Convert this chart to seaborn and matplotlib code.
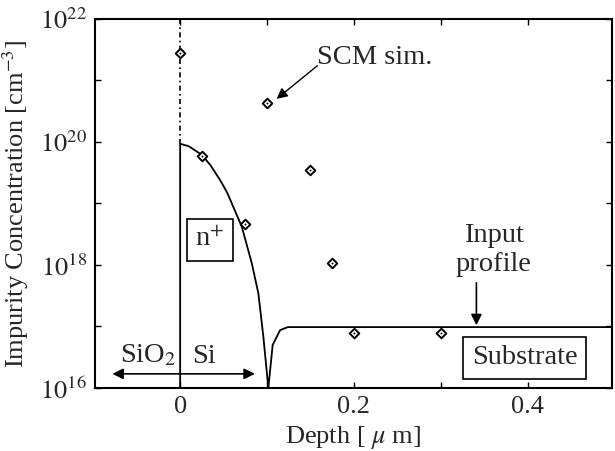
import numpy as np
import pandas as pd
import matplotlib
matplotlib.use("Agg")
import matplotlib.pyplot as plt
import matplotlib.ticker as mticker
import seaborn as sns

# ---- data ----
# input doping profile (solid line): depth [um], log10 concentration
profile_x = [0.0, 0.0, 0.010, 0.025, 0.035, 0.046, 0.054, 0.061, 0.071, 0.0824, 0.090,
             0.0958, 0.1015, 0.1065, 0.115, 0.124, 0.50]
profile_logy = [16.0, 19.97, 19.93, 19.79, 19.62, 19.38, 19.18, 18.95, 18.62, 18.03, 17.54,
                16.83, 16.00, 16.70, 16.94, 16.99, 16.99]
# SCM simulation points (diamonds)
scm_x = [0.0, 0.025, 0.075, 0.10, 0.15, 0.175, 0.20, 0.30]
scm_logy = [21.45, 19.77, 18.67, 20.63, 19.55, 18.03, 16.90, 16.90]
# oxide boundary (dash-dot) above the profile
oxide_x = [0.0, 0.0]
oxide_logy = [19.97, 22.0]

xticks = [0.0, 0.2, 0.4]
xtick_labels = ["0", "0.2", "0.4"]
yticks_exp = [16, 18, 20, 22]

sns.set_theme(style="ticks")
plt.rcParams["font.family"] = ["Liberation Serif", "DejaVu Serif"]
plt.rcParams["mathtext.fontset"] = "stix"

fig = plt.figure(figsize=(6.15, 4.51), dpi=100)
ax = fig.add_axes([0.1545, 0.1397, 0.995 - 0.1545, 0.958 - 0.1397])

prof = pd.DataFrame({"x": profile_x, "y": np.power(10.0, profile_logy)})
scm = pd.DataFrame({"x": scm_x, "y": np.power(10.0, scm_logy)})
ox = pd.DataFrame({"x": oxide_x, "y": np.power(10.0, oxide_logy)})

sns.lineplot(data=prof, x="x", y="y", sort=False, estimator=None, color="black",
             lw=1.3, ax=ax)
sns.lineplot(data=ox, x="x", y="y", sort=False, estimator=None, color="black",
             lw=1.2, ax=ax, linestyle=(0, (3, 2, 1, 2)))
sns.scatterplot(data=scm, x="x", y="y", marker="D", s=24, facecolor="white",
                edgecolor="black", linewidth=1.4, ax=ax, zorder=5)
sns.scatterplot(data=scm, x="x", y="y", marker="o", s=2, color="black",
                linewidth=0, ax=ax, zorder=6)

ax.set_yscale("log")
ax.set_xlim(-0.098, 0.497)
ax.set_ylim(1e16, 1e22)

ax.set_xticks(xticks)
ax.set_xticklabels(xtick_labels)
ax.xaxis.set_minor_locator(mticker.MultipleLocator(0.1))
ax.set_yticks([10.0 ** e for e in yticks_exp])
ax.set_yticklabels([r"$10^{%d}$" % e for e in yticks_exp])
ax.yaxis.set_minor_locator(mticker.FixedLocator([1e17, 1e19, 1e21]))
ax.yaxis.set_minor_formatter(mticker.NullFormatter())

ax.tick_params(which="both", direction="in", top=True, right=True,
               length=4, width=1.0, color="black", labelsize=19, pad=6)
for sp in ax.spines.values():
    sp.set_linewidth(1.5)
    sp.set_color("black")
    sp.set_visible(True)

ax.set_xlabel(r"Depth [ $\mu$ m]", fontsize=19, labelpad=4)
ax.set_ylabel(r"Impurity Concentration [cm$^{-3}$]", fontsize=19, labelpad=6)

fs = 20.5
# SCM sim. annotation
ax.text(0.157, 10 ** 21.38, "SCM sim.", fontsize=fs, ha="left", va="center")
ax.annotate("", xy=(0.111, 10 ** 20.70), xytext=(0.158, 10 ** 21.24),
            arrowprops=dict(arrowstyle="-|>", color="black", lw=1.0,
                            shrinkA=0, shrinkB=0, mutation_scale=16))
# n+ box
ax.text(0.0345, 10 ** 18.41, r"n$^{+}$", fontsize=fs, ha="center", va="center",
        bbox=dict(boxstyle="square,pad=0.3", fc="white", ec="black", lw=1.2))
# SiO2 / Si
ax.text(-0.0374, 10 ** 16.41, r"SiO$_2$", fontsize=fs, ha="center", va="baseline")
ax.text(0.027, 10 ** 16.41, "Si", fontsize=fs, ha="center", va="baseline")
ax.annotate("", xy=(-0.078, 10 ** 16.23), xytext=(0.086, 10 ** 16.23),
            arrowprops=dict(arrowstyle="<|-|>", color="black", lw=1.2,
                            shrinkA=0, shrinkB=0, mutation_scale=16))
# Input profile
ax.text(0.361, 10 ** 18.24, "Input\nprofile", fontsize=fs, ha="center", va="center",
        linespacing=1.2)
ax.annotate("", xy=(0.341, 10 ** 17.02), xytext=(0.341, 10 ** 17.71),
            arrowprops=dict(arrowstyle="-|>", color="black", lw=1.2,
                            shrinkA=0, shrinkB=0, mutation_scale=16))
# Substrate box
ax.text(0.3966, 10 ** 16.49, "Substrate", fontsize=fs, ha="center", va="center",
        bbox=dict(boxstyle="square,pad=0.3", fc="white", ec="black", lw=1.2))

fig.savefig("out.png", dpi=100, facecolor="white")
